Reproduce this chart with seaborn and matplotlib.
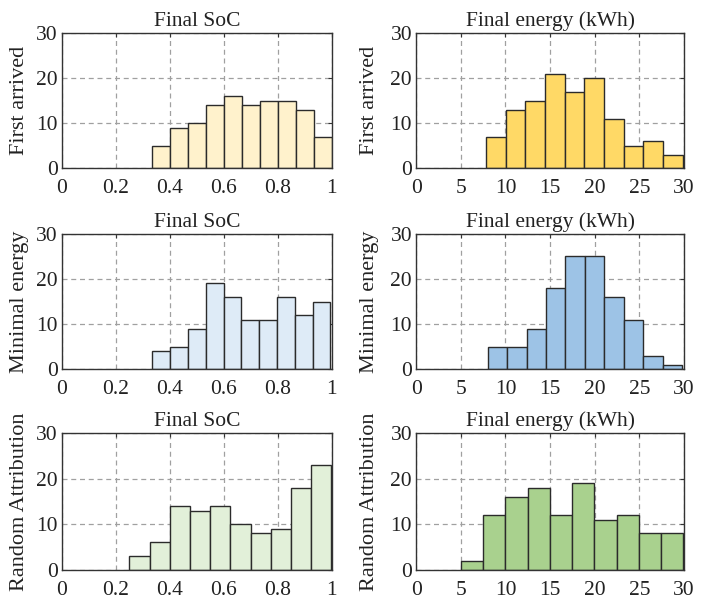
import numpy as np
import pandas as pd
import matplotlib
matplotlib.use('Agg')
import matplotlib.pyplot as plt
import seaborn as sns

# --- data ---
ROW_NAMES = ['First arrived', 'Minimal energy', 'Random Attribution']
COL_TITLES = ['Final SoC', 'Final energy (kWh)']

# bin edges per panel
soc_edges_first = [0.333, 0.400, 0.467, 0.533, 0.600, 0.667, 0.733, 0.800, 0.867, 0.933, 1.000]
soc_counts_first = [5, 9, 10, 14, 16, 14, 15, 15, 13, 7]
energy_edges_first = [7.83, 10.03, 12.23, 14.43, 16.63, 18.83, 21.03, 23.23, 25.43, 27.63, 29.83]
energy_counts_first = [7, 13, 15, 21, 17, 20, 11, 5, 6, 3]

soc_edges_min = [0.335, 0.401, 0.467, 0.533, 0.599, 0.665, 0.731, 0.797, 0.863, 0.929, 0.995]
soc_counts_min = [4, 5, 9, 19, 16, 11, 11, 16, 12, 15]
energy_edges_min = [8.00, 10.18, 12.36, 14.54, 16.72, 18.90, 21.08, 23.26, 25.44, 27.62, 29.80]
energy_counts_min = [5, 5, 9, 18, 25, 25, 16, 11, 3, 1]

soc_edges_rand = [0.250, 0.325, 0.400, 0.474, 0.549, 0.624, 0.699, 0.774, 0.848, 0.923, 0.998]
soc_counts_rand = [3, 6, 14, 13, 14, 10, 8, 9, 18, 23]
energy_edges_rand = [4.99, 7.48, 9.98, 12.47, 14.97, 17.46, 19.95, 22.45, 24.94, 27.44, 29.93]
energy_counts_rand = [2, 12, 16, 18, 12, 19, 11, 12, 8, 8]

soc_ticks = [0, 0.2, 0.4, 0.6, 0.8, 1]
soc_ticklabels = ['0', '0.2', '0.4', '0.6', '0.8', '1']
energy_ticks = [0, 5, 10, 15, 20, 25, 30]
y_ticks = [0, 10, 20, 30]

panels = [
    [(soc_edges_first, soc_counts_first), (energy_edges_first, energy_counts_first)],
    [(soc_edges_min, soc_counts_min), (energy_edges_min, energy_counts_min)],
    [(soc_edges_rand, soc_counts_rand), (energy_edges_rand, energy_counts_rand)],
]

COLORS = [['#FFF2CC', '#FFD966'],
          ['#DEEBF7', '#9DC3E6'],
          ['#E2F0D9', '#A9D18E']]

sns.set_style('white')
plt.rcParams['font.family'] = ['Liberation Serif', 'DejaVu Serif']

fig = plt.figure(figsize=(7.03, 6.03), dpi=100)

# axes boxes in figure fraction (left, bottom, width, height)
lefts = [0.088, 0.592]
widths = [0.384, 0.381]
bottoms = [0.721, 0.388, 0.055]
heights = [0.224, 0.224, 0.227]
label_x = [-0.122, -0.140]

for r in range(3):
    for c in range(2):
        ax = fig.add_axes([lefts[c], bottoms[r], widths[c], heights[r]])
        edges, counts = panels[r][c]
        mids = [(a + b) / 2 for a, b in zip(edges[:-1], edges[1:])]
        df = pd.DataFrame({'value': mids, 'count': counts})
        sns.histplot(data=df, x='value', weights='count', bins=list(edges), ax=ax,
                     color=COLORS[r][c], edgecolor='#2b2b2b', linewidth=1.0,
                     alpha=1.0, zorder=3)
        ax.set_ylim(0, 30)
        ax.set_yticks(y_ticks)
        if c == 0:
            ax.set_xlim(0, 1)
            ax.set_xticks(soc_ticks)
            ax.set_xticklabels(soc_ticklabels)
        else:
            ax.set_xlim(0, 30)
            ax.set_xticks(energy_ticks)
        ax.grid(True, linestyle=(0, (4, 3)), color='#a0a0a0', linewidth=0.9, zorder=0)
        ax.set_axisbelow(True)
        ax.tick_params(axis='both', direction='in', length=3, width=0.8,
                       top=True, right=True, labelsize=15.5, color='#333333',
                       labelcolor='#222222')
        ax.tick_params(axis='x', pad=8)
        ax.tick_params(axis='y', pad=3)
        for s in ax.spines.values():
            s.set_color('#333333')
            s.set_linewidth(1.0)
            s.set_zorder(5)
        ax.set_title(COL_TITLES[c], fontsize=15.5, pad=5, color='#222222')
        ax.set_xlabel('')
        ax.set_ylabel(ROW_NAMES[r], fontsize=16, color='#222222')
        ax.yaxis.set_label_coords(label_x[c], 0.5)

fig.savefig('out.png', dpi=100)
